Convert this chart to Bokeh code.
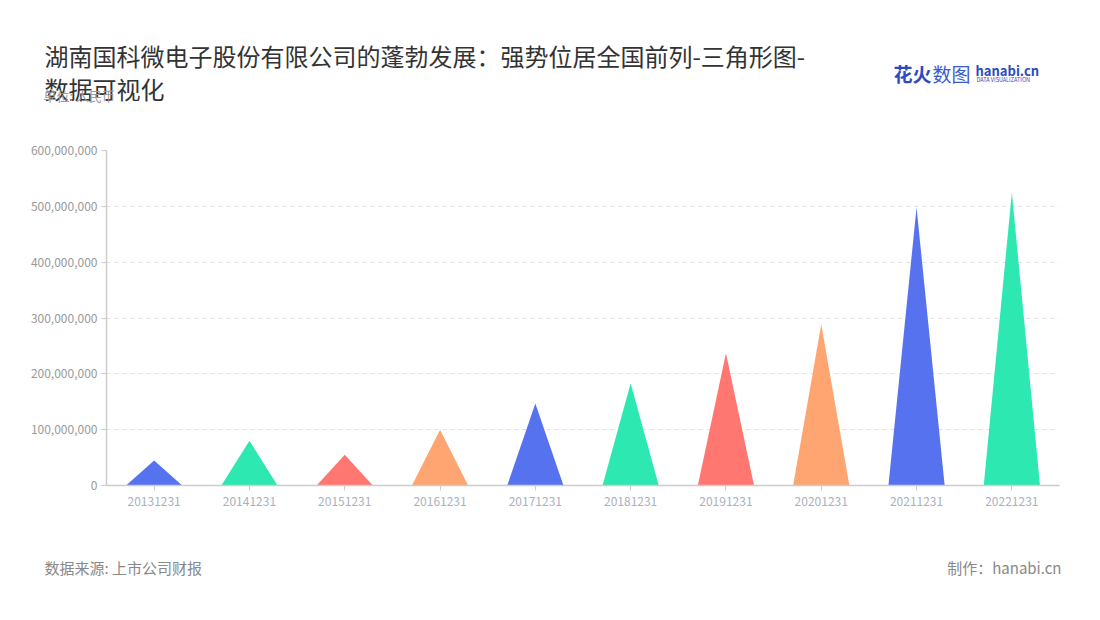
from bokeh.plotting import figure
from bokeh.models import Label, FixedTicker, NumeralTickFormatter, Range1d
from bokeh.layouts import column
from bokeh.embed import file_html
from bokeh.resources import INLINE

dates = ["20131231", "20141231", "20151231", "20161231", "20171231",
         "20181231", "20191231", "20201231", "20211231", "20221231"]
values = [45e6, 80e6, 55e6, 100e6, 147e6, 183e6, 237e6, 289e6, 498e6, 525e6]
palette = ["#5772EE", "#2EE8B1", "#FF7770", "#FFA571"]
y_ticks = [0, 100e6, 200e6, 300e6, 400e6, 500e6, 600e6]

FONT = "Noto Sans CJK SC"
W = 1084
HEAD_H = 140            # header panel: page y 0..140
MAIN_TOP, MAIN_BOT = 140, 540
FOOT_H = 64             # footer panel: page y 540..604
FL, FT, FR, FB = 106, 150, 1059, 485  # frame edges in page pixels


def text_panel(y0, h):
    f = figure(width=W, height=h, output_backend="svg", toolbar_location=None,
               x_range=Range1d(0, W), y_range=Range1d(y0 + h, y0),
               x_axis_location=None, y_axis_location=None, min_border=0,
               frame_align=False)
    f.outline_line_color = None
    f.grid.visible = False
    f.background_fill_color = "white"
    f.border_fill_color = "white"
    return f


def lab(f, x, y, text, size, color, align="left", weight="normal", level="annotation"):
    f.add_layout(Label(x=x, y=y, text=text, text_font=FONT, text_font_size=size,
                       text_color=color, text_align=align, text_font_style=weight,
                       text_baseline="middle", level=level))


# header
head = text_panel(0, HEAD_H)
lab(head, 44, 55, "湖南国科微电子股份有限公司的蓬勃发展：强势位居全国前列-三角形图-", "24px", "#333333")
lab(head, 44, 88, "数据可视化", "24px", "#333333")
lab(head, 43, 95, "单位: 人民币", "13px", "#9a9aa8", level="overlay")
lab(head, 893, 73, "花火", "19px", "#2b4bc0", weight="bold")
lab(head, 932, 73, "数图", "19px", "#3a5ad0")
lab(head, 975, 70, "hanabi.cn", "13px", "#2b4bc0", weight="bold")
lab(head, 976, 79, "DATA VISUALIZATION", "5.5px", "#2b4bc0")

# main chart
p = figure(width=W, height=MAIN_BOT - MAIN_TOP, output_backend="svg", toolbar_location=None,
           x_range=Range1d(0, len(dates)), y_range=Range1d(0, 600e6),
           min_border_left=FL, min_border_right=W - FR, min_border_top=FT - MAIN_TOP,
           min_border_bottom=MAIN_BOT - FB, frame_align=False)
p.outline_line_color = None
p.background_fill_color = "white"
p.border_fill_color = "white"

half = 0.295
xs, ys, colors = [], [], []
for i, v in enumerate(values):
    c = i + 0.5
    xs.append([c - half, c, c + half])
    ys.append([0, v, 0])
    colors.append(palette[i % len(palette)])
p.patches(xs=xs, ys=ys, fill_color=colors, line_color=None)

p.xaxis.ticker = FixedTicker(ticks=[i + 0.5 for i in range(len(dates))])
p.xaxis.major_label_overrides = {i + 0.5: d for i, d in enumerate(dates)}
p.xaxis.minor_tick_line_color = None
p.xaxis.major_tick_in = 0
p.xaxis.major_tick_out = 5
p.xaxis.axis_line_color = "#cccccc"
p.xaxis.axis_line_width = 1.5
p.xaxis.major_tick_line_color = "#cccccc"
p.xaxis.major_label_text_color = "#aab0c0"
p.xaxis.major_label_text_font = FONT
p.xaxis.major_label_text_font_size = "12px"
p.xaxis.major_label_standoff = 6

p.yaxis.ticker = FixedTicker(ticks=y_ticks)
p.yaxis.formatter = NumeralTickFormatter(format="0,0")
p.yaxis.minor_tick_line_color = None
p.yaxis.major_tick_in = 0
p.yaxis.major_tick_out = 5
p.yaxis.axis_line_color = "#cccccc"
p.yaxis.axis_line_width = 1.5
p.yaxis.major_tick_line_color = "#cccccc"
p.yaxis.major_label_text_color = "#999999"
p.yaxis.major_label_text_font = FONT
p.yaxis.major_label_text_font_size = "12px"
p.yaxis.major_label_standoff = 4

p.xgrid.grid_line_color = None
p.ygrid.grid_line_color = "#e0e0e0"
p.ygrid.grid_line_dash = "4 4"

# footer
foot = text_panel(MAIN_BOT, FOOT_H)
lab(foot, 44, 567, "数据来源: 上市公司财报", "15px", "#888888")
lab(foot, 1061, 567, "制作：hanabi.cn", "15px", "#888888", align="right")

layout = column(head, p, foot, spacing=0)
open("out.html", "w").write(file_html(layout, INLINE))
